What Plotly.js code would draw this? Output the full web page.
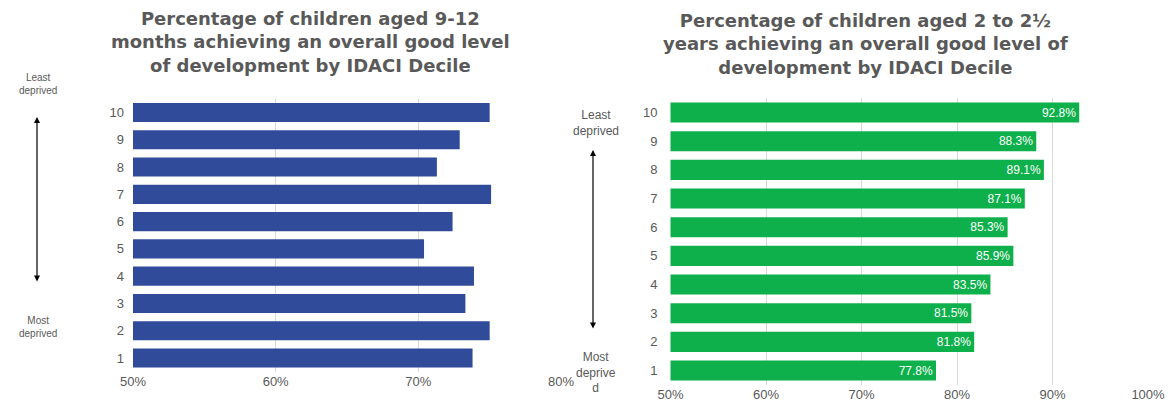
<!DOCTYPE html>
<html>
<head>
<meta charset="utf-8">
<script src="https://cdn.plot.ly/plotly-3.0.1.min.js"></script>
<style>html,body{margin:0;padding:0;background:#fff;}#chart{width:1174px;height:414px;}</style>
</head>
<body>
<div id="chart"></div>
<script>
const deciles = ["1","2","3","4","5","6","7","8","9","10"];
const infantValues = [73.8, 75.0, 73.3, 73.9, 70.4, 72.4, 75.1, 71.3, 72.9, 75.0];
const toddlerValues = [77.8, 81.8, 81.5, 83.5, 85.9, 85.3, 87.1, 89.1, 88.3, 92.8];
const toddlerLabels = ["77.8%","81.8%","81.5%","83.5%","85.9%","85.3%","87.1%","89.1%","88.3%","92.8%"];
const leftTicks = [50, 60, 70, 80];
const leftTickText = ["50%", "60%", "70%", "80%"];
const rightTicks = [50, 60, 70, 80, 90, 100];
const rightTickText = ["50%", "60%", "70%", "80%", "90%", "100%"];
const leftTitle = "Percentage of children aged 9-12<br>months achieving an overall good level<br>of development by IDACI Decile";
const rightTitle = "Percentage of children aged 2 to 2½<br>years achieving an overall good level of<br>development by IDACI Decile";

const W = 1174, H = 414;
const px = v => v / W, py = v => 1 - v / H;
const gray = "#595959";
const tickFont = {family: "Liberation Sans, Arial, sans-serif", size: 13, color: gray};

const traces = [
  {type: "bar", orientation: "h", y: deciles, x: infantValues, xaxis: "x", yaxis: "y",
   marker: {color: "#2F4B9A"}, hoverinfo: "x+y"},
  {type: "bar", orientation: "h", y: deciles, x: toddlerValues, xaxis: "x2", yaxis: "y2",
   marker: {color: "#0DB04B"}, text: toddlerLabels, textposition: "inside", insidetextanchor: "end",
   textfont: {family: "Liberation Sans, Arial, sans-serif", size: 12, color: "#ffffff"}, hoverinfo: "x+y"}
];

const xcommon = {tickmode: "array", showgrid: true, gridcolor: "#d9d9d9", gridwidth: 1,
  zeroline: false, showline: false, ticks: "", tickfont: tickFont, fixedrange: true};
const ycommon = {type: "category", showgrid: false, zeroline: false, showline: false, ticks: "",
  tickfont: tickFont, fixedrange: true};

const layout = {
  width: W, height: H, margin: {l: 0, r: 0, t: 0, b: 0},
  paper_bgcolor: "#ffffff", plot_bgcolor: "#ffffff", showlegend: false, bargap: 0.3,
  xaxis: Object.assign({}, xcommon, {domain: [px(133), px(561)], range: [50, 80], anchor: "y",
    tickvals: leftTicks, ticktext: leftTickText}),
  yaxis: Object.assign({}, ycommon, {domain: [py(371.6), py(98.9)], anchor: "x", ticklabelstandoff: 8}),
  xaxis2: Object.assign({}, xcommon, {domain: [px(670.5), px(1148)], range: [50, 100], anchor: "y2",
    tickvals: rightTicks, ticktext: rightTickText}),
  yaxis2: Object.assign({}, ycommon, {domain: [py(384.9), py(98.2)], anchor: "x2", ticklabelstandoff: 12}),
  annotations: [
    {xref: "paper", yref: "paper", x: px(310), y: py(6), xanchor: "center", yanchor: "top", showarrow: false,
     text: "<b>" + leftTitle + "</b>", align: "center",
     font: {family: "DejaVu Sans, Verdana, sans-serif", size: 18, color: gray}},
    {xref: "paper", yref: "paper", x: px(865), y: py(8), xanchor: "center", yanchor: "top", showarrow: false,
     text: "<b>" + rightTitle + "</b>", align: "center",
     font: {family: "DejaVu Sans, Verdana, sans-serif", size: 18, color: gray}},
    {xref: "paper", yref: "paper", x: px(38), y: py(84), xanchor: "center", yanchor: "middle", showarrow: false,
     text: "Least<br>deprived", align: "center", font: {family: "Liberation Sans, Arial, sans-serif", size: 10, color: gray}},
    {xref: "paper", yref: "paper", x: px(38), y: py(327), xanchor: "center", yanchor: "middle", showarrow: false,
     text: "Most<br>deprived", align: "center", font: {family: "Liberation Sans, Arial, sans-serif", size: 10, color: gray}},
    {xref: "paper", yref: "paper", x: px(37), y: py(117), ax: 0, ay: 166, axref: "pixel", ayref: "pixel",
     text: "", showarrow: true, arrowhead: 2, startarrowhead: 2, arrowside: "end+start", arrowsize: 1, arrowwidth: 1.2, arrowcolor: "#000000"},
    {xref: "paper", yref: "paper", x: px(596), y: py(123), xanchor: "center", yanchor: "middle", showarrow: false,
     text: "Least<br>deprived", align: "center", font: {family: "Liberation Sans, Arial, sans-serif", size: 12, color: gray}},
    {xref: "paper", yref: "paper", x: px(596), y: py(372), xanchor: "center", yanchor: "middle", showarrow: false,
     text: "Most<br>deprive<br>d", align: "center", font: {family: "Liberation Sans, Arial, sans-serif", size: 12, color: gray}},
    {xref: "paper", yref: "paper", x: px(593), y: py(150), ax: 0, ay: 180, axref: "pixel", ayref: "pixel",
     text: "", showarrow: true, arrowhead: 2, startarrowhead: 2, arrowside: "end+start", arrowsize: 1, arrowwidth: 1.2, arrowcolor: "#000000"}
  ]
};

Plotly.newPlot("chart", traces, layout, {displayModeBar: false, staticPlot: true});
</script>
</body>
</html>
